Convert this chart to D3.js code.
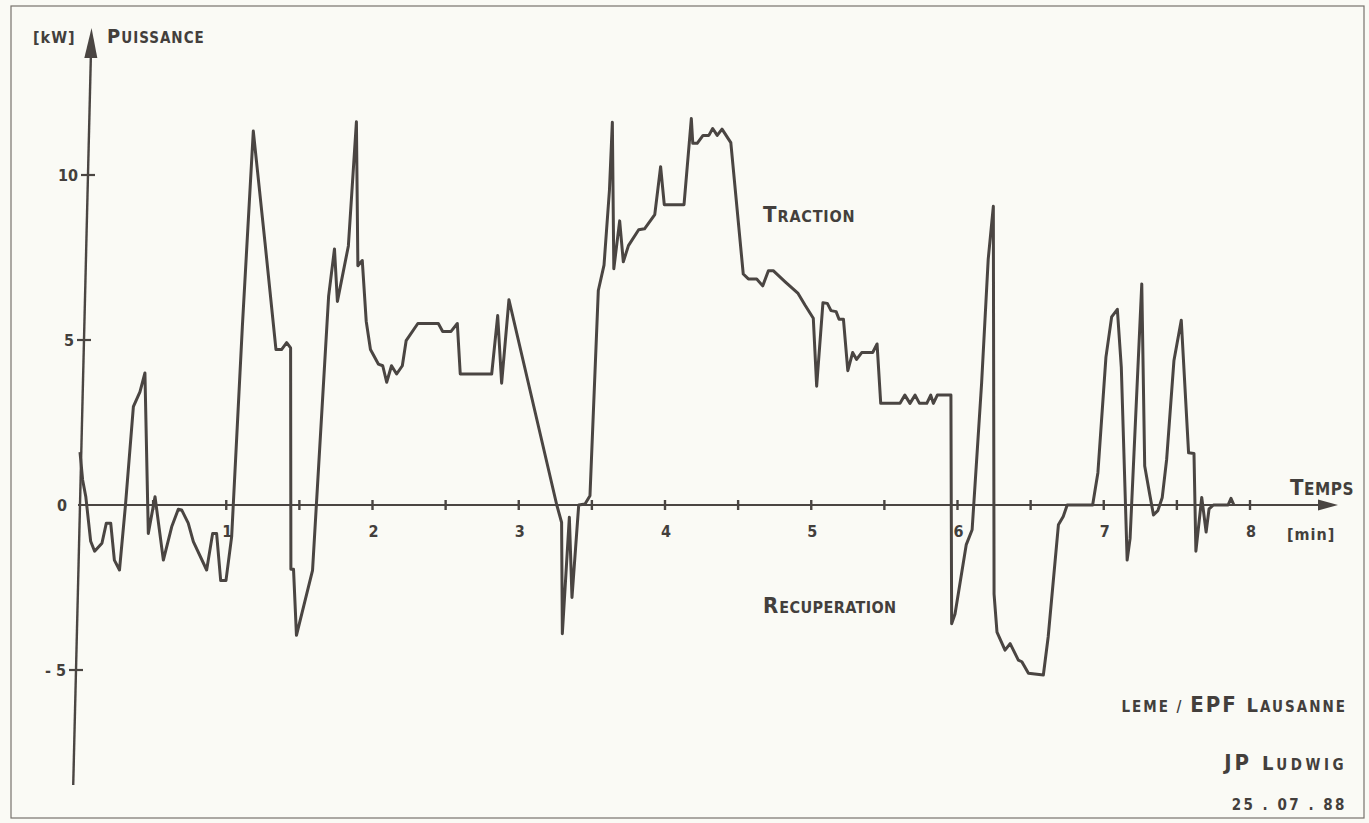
<!DOCTYPE html>
<html>
<head>
<meta charset="utf-8">
<script src="https://cdn.jsdelivr.net/npm/d3@7"></script>
<style>
  body { margin: 0; background: #fafaf5; }
  svg { display: block; }
  text { fill: #433f3c; font-family: "DejaVu Sans Condensed", "DejaVu Sans", sans-serif; font-weight: bold; }
</style>
</head>
<body>
<svg id="chart" width="1369" height="823"></svg>
<script>
// time in minutes
const temps = [0.0, 0.018, 0.04, 0.073, 0.10, 0.15, 0.18, 0.21, 0.235, 0.27, 0.31, 0.365, 0.41, 0.444, 0.467, 0.513, 0.57, 0.627, 0.672, 0.695,
  0.74, 0.775, 0.866, 0.907, 0.934, 0.962, 0.998, 1.037, 1.11, 1.185, 1.265, 1.34, 1.378, 1.413, 1.44, 1.442, 1.46, 1.48, 1.59, 1.70,
  1.74, 1.76, 1.835, 1.89, 1.90, 1.93, 1.957, 1.986, 2.04, 2.07, 2.097, 2.13, 2.165, 2.204, 2.23, 2.31, 2.45, 2.48, 2.537, 2.58,
  2.60, 2.815, 2.856, 2.883, 2.933, 3.26, 3.293, 3.298, 3.346, 3.364, 3.41, 3.453, 3.487, 3.544, 3.583, 3.62, 3.64, 3.65, 3.69, 3.715,
  3.75, 3.82, 3.86, 3.93, 3.97, 3.995, 4.13, 4.18, 4.19, 4.22, 4.26, 4.30, 4.326, 4.357, 4.39, 4.45, 4.535, 4.57, 4.627, 4.668,
  4.707, 4.74, 4.82, 4.91, 4.957, 5.014, 5.037, 5.08, 5.11, 5.135, 5.17, 5.19, 5.22, 5.25, 5.283, 5.31, 5.345, 5.42, 5.45, 5.475,
  5.607, 5.64, 5.675, 5.71, 5.74, 5.79, 5.817, 5.835, 5.862, 5.955, 5.96, 5.983, 6.06, 6.10, 6.165, 6.21, 6.245, 6.25, 6.27, 6.325,
  6.36, 6.416, 6.44, 6.485, 6.587, 6.62, 6.69, 6.723, 6.75, 6.924, 6.96, 7.015, 7.054, 7.093, 7.12, 7.16, 7.18, 7.26, 7.28, 7.316,
  7.34, 7.37, 7.40, 7.43, 7.48, 7.53, 7.58, 7.617, 7.63, 7.67, 7.70, 7.72, 7.75, 7.85, 7.87, 7.89];

// power in kW
const puissance = [1.6, 0.76, 0.24, -1.1, -1.4, -1.16, -0.55, -0.55, -1.67, -1.97, -0.05, 2.98, 3.43, 4.0, -0.86, 0.25, -1.67, -0.66, -0.13, -0.15,
  -0.55, -1.11, -1.97, -0.86, -0.86, -2.29, -2.29, -0.96, 5.4, 11.33, 7.95, 4.71, 4.71, 4.92, 4.76, -1.95, -1.95, -3.95, -1.98, 6.33,
  7.76, 6.17, 7.85, 11.61, 7.25, 7.41, 5.57, 4.71, 4.27, 4.22, 3.72, 4.22, 3.97, 4.22, 4.98, 5.5, 5.5, 5.26, 5.26, 5.5,
  3.97, 3.97, 5.74, 3.69, 6.22, 0, -0.53, -3.9, -0.37, -2.8, 0, 0.03, 0.28, 6.5, 7.27, 9.53, 11.6, 7.16, 8.61, 7.37,
  7.86, 8.34, 8.37, 8.8, 10.25, 9.1, 9.1, 11.71, 10.96, 10.96, 11.2, 11.2, 11.41, 11.2, 11.39, 10.98, 7.0, 6.85, 6.85, 6.64,
  7.1, 7.1, 6.77, 6.41, 6.06, 5.66, 3.6, 6.13, 6.11, 5.89, 5.86, 5.63, 5.63, 4.07, 4.62, 4.41, 4.62, 4.62, 4.88, 3.08,
  3.08, 3.33, 3.08, 3.33, 3.08, 3.08, 3.33, 3.08, 3.33, 3.33, -3.6, -3.3, -1.2, -0.75, 3.7, 7.45, 9.05, -2.7, -3.85, -4.4,
  -4.2, -4.7, -4.75, -5.1, -5.15, -4.0, -0.6, -0.35, 0, 0, 0.98, 4.48, 5.7, 5.93, 4.18, -1.67, -1.02, 6.7, 1.18, 0.28,
  -0.3, -0.17, 0.23, 1.38, 4.38, 5.6, 1.58, 1.56, -1.4, 0.23, -0.82, -0.12, 0, 0, 0.2, 0];

const xTicks = [1, 2, 3, 4, 5, 6, 7, 8];
const xMinorTicks = [0.5, 1, 1.5, 2, 2.5, 3, 3.5, 4, 4.5, 5, 5.5, 6, 6.5, 7, 7.5, 8];
const yTicks = [10, 5, 0, -5];
const yTickLabels = ["10", "5", "0", "- 5"];

const svg = d3.select("#chart");
const ink = "#4a4542";

const x = d3.scaleLinear().domain([0, 8]).range([80, 1250]);
const y = d3.scaleLinear().domain([0, 10]).range([505, 175]);

// the plotter's vertical axis leans a little
const lean = 0.0242;
const axisX = function (py) { return x(0) + (y(0) - py) * lean; };

// frame
svg.append("rect").attr("x", 11).attr("y", 6).attr("width", 1353).attr("height", 812)
    .attr("fill", "none").attr("stroke", "#77726d").attr("stroke-width", 1.2);

// x axis
const xEnd = 1338;
svg.append("line").attr("x1", x(0) - 2).attr("x2", xEnd - 10).attr("y1", y(0)).attr("y2", y(0))
    .attr("stroke", ink).attr("stroke-width", 2.2);
svg.append("path").attr("d", `M${xEnd},${y(0)} L${xEnd - 20},${y(0) - 5.5} L${xEnd - 20},${y(0) + 5.5} Z`).attr("fill", ink);
svg.selectAll(".xtick").data(xMinorTicks).enter().append("line")
    .attr("x1", d => x(d)).attr("x2", d => x(d)).attr("y1", y(0) - 5).attr("y2", y(0) + 5)
    .attr("stroke", ink).attr("stroke-width", 2.4);
svg.selectAll(".xlabel").data(xTicks).enter().append("text")
    .attr("x", d => x(d) + 1).attr("y", 537).attr("text-anchor", "middle").attr("font-size", 16).text(d => d);

// y axis
const yTop = 28, yBottom = 785;
svg.append("line").attr("x1", axisX(yBottom)).attr("y1", yBottom).attr("x2", axisX(yTop + 20)).attr("y2", yTop + 20)
    .attr("stroke", ink).attr("stroke-width", 2.4);
svg.append("path").attr("d", `M${axisX(yTop)},${yTop} L${axisX(58) - 6.5},58 L${axisX(58) + 6.5},58 Z`).attr("fill", ink);
svg.selectAll(".ytick").data(yTicks.filter(d => d !== 0)).enter().append("line")
    .attr("x1", d => axisX(y(d)) - 7).attr("x2", d => axisX(y(d)) + 7).attr("y1", d => y(d)).attr("y2", d => y(d))
    .attr("stroke", ink).attr("stroke-width", 2.2);
svg.selectAll(".ylabel").data(yTicks).enter().append("text")
    .attr("x", (d, i) => axisX(y(d)) - (d === 0 ? 13 : 10)).attr("y", d => y(d) + 6)
    .attr("text-anchor", "end").attr("font-size", 16).text((d, i) => yTickLabels[i]);

// power curve
const points = temps.map((t, i) => [t, puissance[i]]);
svg.append("path").datum(points)
    .attr("d", d3.line().x(d => x(d[0])).y(d => y(d[1])))
    .attr("fill", "none").attr("stroke", ink).attr("stroke-width", 3).attr("stroke-linejoin", "round");

// small caps helper
function smallCaps(parent, px, py, parts, anchor) {
    const t = parent.append("text").attr("x", px).attr("y", py).attr("text-anchor", anchor || "start");
    parts.forEach(p => t.append("tspan").attr("font-size", p[1]).attr("letter-spacing", p[2] || 0.5).text(p[0]));
    return t;
}

smallCaps(svg, 33, 43, [["[kW]", 16, 1]]);
smallCaps(svg, 107, 43, [["P", 20, 1], ["UISSANCE", 15, 1]]);
smallCaps(svg, 1290, 495, [["T", 22, 0.5], ["EMPS", 17, 0.5]]);
smallCaps(svg, 1287, 540, [["[min]", 16, 1]]);
smallCaps(svg, 763, 222, [["T", 22, 1], ["RACTION", 16, 0.8]]);
smallCaps(svg, 763, 613, [["R", 22, 1], ["ECUPERATION", 16, 0.4]]);

// plot credits
smallCaps(svg, 1347, 712, [["LEME / ", 15, 2], ["EPF ", 22, 2], ["L", 20, 2], ["AUSANNE", 15, 2]], "end");
smallCaps(svg, 1347, 770, [["JP ", 22, 3], ["L", 20, 3], ["UDWIG", 15, 3.5]], "end");
smallCaps(svg, 1347, 810, [["25 . 07 . 88", 15, 2.5]], "end");
</script>
</body>
</html>
